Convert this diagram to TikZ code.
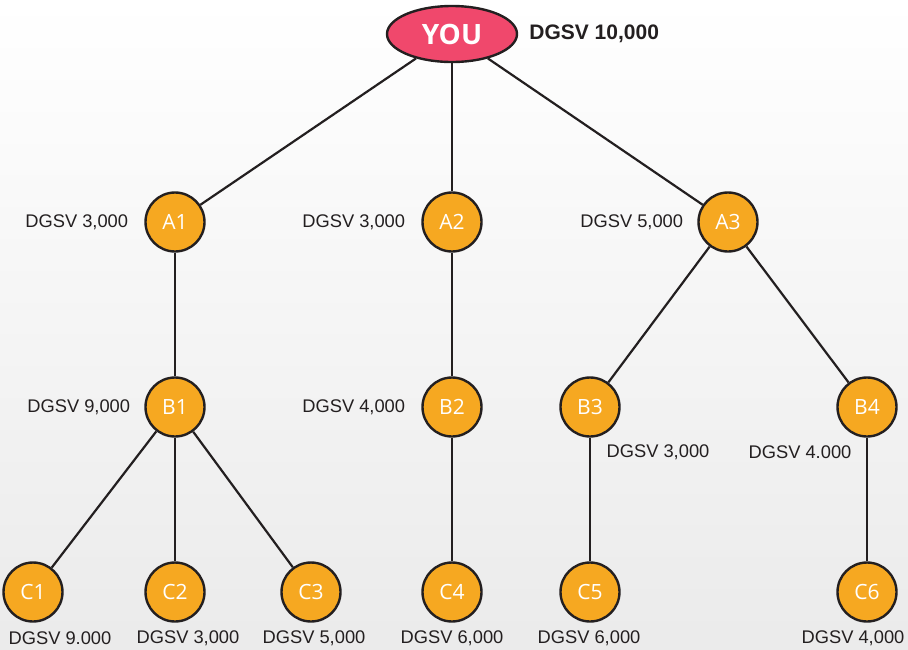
\documentclass[tikz,border=0pt]{standalone}
\usepackage{fontspec}
\setmainfont{Liberation Sans}
\newfontfamily\circfont{Open Sans}
\usetikzlibrary{positioning,shapes.geometric}
\definecolor{youpink}{RGB}{240,72,108}
\definecolor{nodeorange}{RGB}{246,168,33}
\definecolor{inkdark}{RGB}{35,31,32}
\tikzset{
  member/.style={circle, draw=inkdark, line width=2.4pt, fill=nodeorange,
    minimum size=59pt, inner sep=0pt, text=white,
    font=\circfont\fontsize{21}{21}\selectfont},
  root/.style={ellipse, draw=inkdark, line width=2.4pt, fill=youpink,
    minimum width=130pt, minimum height=56pt, inner sep=0pt, text=white,
    font=\circfont\bfseries\fontsize{28}{28}\selectfont},
  val/.style={inner sep=0pt, text=inkdark, font=\fontsize{18.3}{18.3}\selectfont},
  bigval/.style={inner sep=0pt, text=inkdark, font=\bfseries\fontsize{21}{21}\selectfont},
  link/.style={draw=inkdark, line width=2.2pt}
}
\begin{document}
\begin{tikzpicture}[x=1pt, y=1pt]
    % background
    \shade[top color=white, bottom color=black!8] (0,0) rectangle (908,-649);
    \useasboundingbox (0,0) rectangle (908,-649);
    % the tree
    \node[root] (you) at (452,-34) {YOU};
    \node[member] (A1) at (175,-222) {A1};
    \node[member] (A2) at (452,-222) {A2};
    \node[member] (A3) at (728,-222) {A3};
    \node[member] (B1) at (175,-407) {B1};
    \node[member] (B2) at (452,-407) {B2};
    \node[member] (B3) at (590,-407) {B3};
    \node[member] (B4) at (867,-407) {B4};
    \node[member] (C1) at (33,-592) {C1};
    \node[member] (C2) at (175,-592) {C2};
    \node[member] (C3) at (311,-592) {C3};
    \node[member] (C4) at (452,-592) {C4};
    \node[member] (C5) at (590,-592) {C5};
    \node[member] (C6) at (867,-592) {C6};
    % links
    \draw[link] (you) -- (A1);
    \draw[link] (you) -- (A2);
    \draw[link] (you) -- (A3);
    \draw[link] (A1) -- (B1);
    \draw[link] (A2) -- (B2);
    \draw[link] (A3) -- (B3);
    \draw[link] (A3) -- (B4);
    \draw[link] (B1) -- (C1);
    \draw[link] (B1) -- (C2);
    \draw[link] (B1) -- (C3);
    \draw[link] (B2) -- (C4);
    \draw[link] (B3) -- (C5);
    \draw[link] (B4) -- (C6);
    % values
    \node[bigval, right=11pt of you] (vyou) {DGSV 10,000};
    \node[val, left=16pt of A1] (vA1) {DGSV 3,000};
    \node[val, left=16pt of A2] (vA2) {DGSV 3,000};
    \node[val, left=14pt of A3] (vA3) {DGSV 5,000};
    \node[val, left=14pt of B1] (vB1) {DGSV 9,000};
    \node[val, left=16pt of B2] (vB2) {DGSV 4,000};
    \node[val] (vB3) at (658,-452) {DGSV 3,000};
    \node[val] (vB4) at (800,-452) {DGSV 4.000};
    \node[val] (vC1) at (60,-638) {DGSV 9.000};
    \node[val] (vC2) at (188,-638) {DGSV 3,000};
    \node[val] (vC3) at (314,-638) {DGSV 5,000};
    \node[val] (vC4) at (452,-638) {DGSV 6,000};
    \node[val] (vC5) at (589,-638) {DGSV 6,000};
    \node[val] (vC6) at (853,-638) {DGSV 4,000};
\end{tikzpicture}
\end{document}
